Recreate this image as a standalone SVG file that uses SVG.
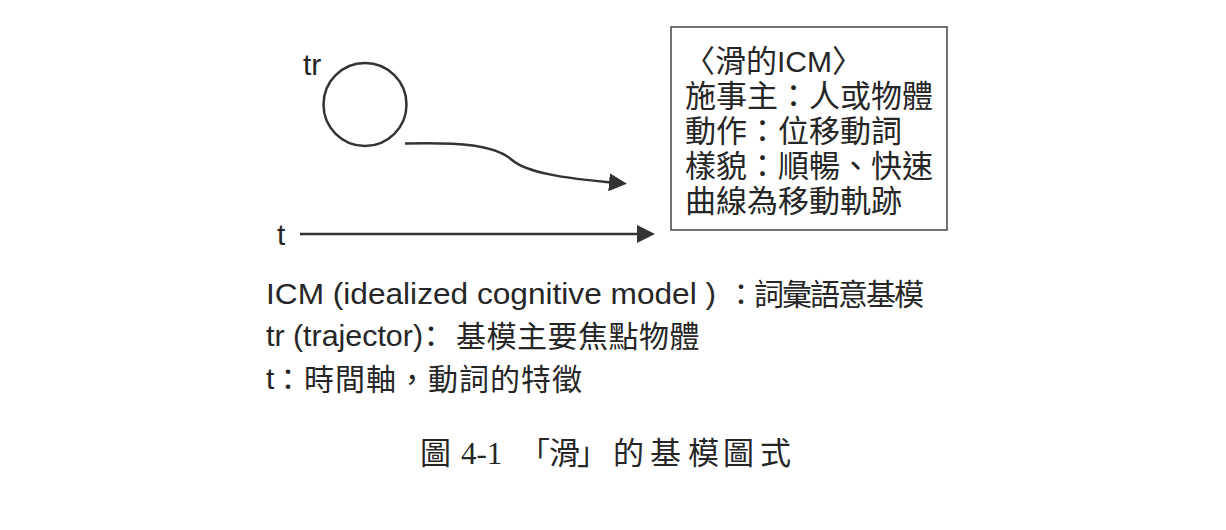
<svg xmlns="http://www.w3.org/2000/svg" width="1226" height="530" viewBox="0 0 1226 530" lang="zh-Hant" xml:lang="zh-Hant">
<style>
.t{font-family:"Liberation Sans","Noto Sans CJK TC",sans-serif;fill:#262626;font-size:30px}
.cjk{font-family:"Noto Sans CJK TC","Liberation Sans",sans-serif;fill:#262626;font-size:30px}
.box{font-size:31px}
.cap{font-family:"Liberation Serif","Noto Sans CJK TC",serif;fill:#262626;font-size:31px}
.capc{font-family:"Noto Sans CJK TC",serif;fill:#262626;font-size:31px}
.ln{fill:none;stroke:#333;stroke-width:2.5}
</style>
<defs>
<marker id="ah" markerUnits="userSpaceOnUse" markerWidth="18" markerHeight="18" refX="8" refY="9" orient="auto" viewBox="0 0 18 18">
<path d="M0,0 L18,9 L0,18 z" fill="#333"/>
</marker>
</defs>
<rect width="1226" height="530" fill="#fff"/>
<g id="tr-node">
<circle cx="365" cy="104.5" r="41.5" class="ln"/>
<text class="t" x="303" y="75" font-size="33">tr</text>
</g>
<g id="t-axis-label">
<text class="t" x="277" y="245" font-size="32">t</text>
</g>
<g id="connectors">
<path class="ln" d="M405,143.5 C460,142 495,145 512,160 C526,172 560,178 617,183" marker-end="url(#ah)"/>
<line class="ln" x1="300" y1="234" x2="645" y2="234" marker-end="url(#ah)"/>
</g>
<g id="icm-box">
<rect x="671" y="27" width="276" height="203" fill="none" stroke="#444" stroke-width="1.5"/>
<text class="cjk box" x="684" y="72">〈滑的<tspan class="t" font-size="31">ICM</tspan>〉</text>
<text class="cjk box" x="685" y="107">施事主：人或物體</text>
<text class="cjk box" x="685" y="142">動作：位移動詞</text>
<text class="cjk box" x="685" y="177">樣貌：順暢、快速</text>
<text class="cjk box" x="685" y="212">曲線為移動軌跡</text>
</g>
<g id="legend">
<text class="t" x="266" y="304" font-size="31" textLength="450" lengthAdjust="spacingAndGlyphs">ICM (idealized cognitive model )</text>
<text class="cjk" x="726" y="305" letter-spacing="-2">：詞彙語意基模</text>
<text class="t" x="266" y="346" font-size="31" textLength="157" lengthAdjust="spacingAndGlyphs">tr (trajector)</text>
<text class="cjk" x="416" y="347">：</text>
<text class="cjk" x="456" y="347" letter-spacing="0.5">基模主要焦點物體</text>
<text class="t" x="266" y="389" font-size="31">t</text>
<text class="cjk" x="273" y="390" letter-spacing="1">：時間軸，動詞的特徵</text>
</g>
<g id="caption">
<text class="capc" x="420" y="464">圖</text>
<text class="cap" x="461" y="464">4-1</text>
<text class="capc" x="519 549 577 613 650 688 723 760" y="464">「滑」的基模圖式</text>
</g>
</svg>
